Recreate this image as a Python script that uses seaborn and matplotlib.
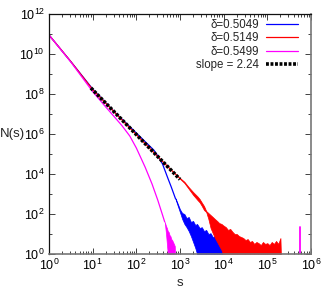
import matplotlib
matplotlib.use("Agg")
import matplotlib.pyplot as plt
import seaborn as sns
import pandas as pd
from matplotlib.ticker import LogLocator, FixedLocator, NullFormatter

# ---------------- data ----------------
labels = ["δ=0.5049", "δ=0.5149", "δ=0.5499", "slope = 2.24"]
colors = ["#0000ff", "#ff0000", "#ff00ff", "#000000"]

# delta = 0.5049 (blue)
blue_s = [1, 3.162, 10, 31.6, 100, 158.5, 251, 316, 398, 525, 631, 794]
blue_N = [8.9e10, 4.17e9, 1.78e8, 1.26e7, 1.12e6, 4.17e5, 1.58e5, 7.59e4, 3.16e4, 6310, 2239, 562]
blue_tail_s = [794, 891, 1000, 1122, 1259, 1413, 1585, 1778, 1995, 2239, 2455, 2818, 3162,
               3548, 3981, 4467, 5012, 5623, 6310, 7079, 7943, 8913, 9550]
blue_tail_hi = [600, 320, 170, 112, 100, 63, 71, 40, 45, 28, 32, 20, 22, 14, 16, 10, 11,
                7.1, 7.9, 5.0, 4.0, 2.8, 2.0]
blue_tail_lo = [530, 250, 120, 56, 32, 22, 14, 7.9, 4.0, 2.0, 1, 1, 1, 1, 1, 1, 1, 1, 1,
                1, 1, 1, 1]

# delta = 0.5149 (red)
red_s = [1, 3.162, 10, 31.6, 100, 316, 631, 1000]
red_N = [8.9e10, 4.17e9, 1.66e8, 1.23e7, 9.33e5, 7.08e4, 1.58e4, 6026]
red_tail_s = [1000, 1259, 1585, 1995, 2512, 2818, 3162, 3548, 3981, 4467, 5012, 5623, 6310,
              7079, 7943, 8913, 9550, 11220, 12590, 14130, 15850, 17780, 19950, 22390,
              25120, 28180, 31620, 35480, 39810, 44670, 50120, 56230, 63100, 70790, 79430,
              89130, 100000, 112200, 125900, 141300, 158500, 177800, 199500, 204200]
red_tail_hi = [6300, 4100, 2200, 1260, 760, 560, 372, 251, 141, 112, 89, 71, 56, 45, 35, 32,
               28, 22, 16, 18, 13, 10, 10, 7.9, 7.1, 6.3, 5.0, 5.6, 4.0, 4.5, 3.2, 4.0, 3.5,
               2.8, 4.0, 3.2, 3.5, 2.8, 4.0, 3.2, 4.5, 3.2, 6.3, 1]
red_tail_lo = [5750, 3550, 1800, 900, 500, 380, 251, 158, 126, 56, 20, 11, 6.3, 4.0, 2.5,
               1.6, 1, 1, 1, 1, 1, 1, 1, 1, 1, 1, 1, 1, 1, 1, 1, 1, 1, 1, 1, 1, 1, 1, 1, 1,
               1, 1, 1, 1]

# delta = 0.5499 (magenta)
mag_s = [1, 3.162, 10, 19.95, 31.6, 46.8, 70.8, 100, 158.5, 229, 309, 398, 447]
mag_N = [8.9e10, 3.98e9, 1.32e8, 2.24e7, 7.08e6, 2.63e6, 7.94e5, 2.0e5, 2.24e4, 3162, 501, 89, 40]
mag_tail_s = [447, 479, 501, 525, 550, 575, 603, 631, 661, 692, 724, 759, 767]
mag_tail_hi = [40, 25, 20, 14, 12.6, 8.9, 7.9, 5.6, 5.0, 4.0, 3.2, 2.5, 1]
mag_tail_lo = [40, 10, 3.2, 1, 1, 1, 1, 1, 1, 1, 1, 1, 1]
mag_spike_s = [5.5e5, 5.5e5]
mag_spike_N = [1, 22]

# power-law fit, slope 2.24
fit_s = [9.12, 1000]
fit_N = [2.0e8, 5.4e3]

x_ticks = [1e0, 1e1, 1e2, 1e3, 1e4, 1e5, 1e6]
x_exps = [0, 1, 2, 3, 4, 5, 6]
y_ticks = [1e0, 1e2, 1e4, 1e6, 1e8, 1e10, 1e12]
y_exps = [0, 2, 4, 6, 8, 10, 12]
y_minor = [1e1, 1e3, 1e5, 1e7, 1e9, 1e11]

# ---------------- style ----------------
sns.set_theme(style="ticks")
plt.rcParams['font.family'] = ['Liberation Sans', 'DejaVu Sans']
plt.rcParams['mathtext.fontset'] = 'custom'
plt.rcParams['mathtext.rm'] = 'Liberation Sans'
plt.rcParams['mathtext.it'] = 'Liberation Sans:italic'
plt.rcParams['mathtext.bf'] = 'Liberation Sans:bold'

fig = plt.figure(figsize=(3.32, 2.91), dpi=100)
fig.patch.set_facecolor("white")
ax = fig.add_axes([49 / 332, 1 - 254 / 291, 262 / 332, 240 / 291])
ax.set_facecolor("white")
ax.set_xscale("log")
ax.set_yscale("log")

lw = 0.9
# blue
sns.lineplot(x=blue_s, y=blue_N, ax=ax, color=colors[0], lw=lw, label=labels[0],
             sort=False, estimator=None)
ax.fill_between(blue_tail_s, blue_tail_lo, blue_tail_hi, color=colors[0], lw=0.5)
# red
sns.lineplot(x=red_s, y=red_N, ax=ax, color=colors[1], lw=lw, label=labels[1],
             sort=False, estimator=None)
ax.fill_between(red_tail_s, red_tail_lo, red_tail_hi, color=colors[1], lw=0.5)
# magenta
sns.lineplot(x=mag_s, y=mag_N, ax=ax, color=colors[2], lw=lw, label=labels[2],
             sort=False, estimator=None)
ax.fill_between(mag_tail_s, mag_tail_lo, mag_tail_hi, color=colors[2], lw=0.5)
sns.lineplot(x=mag_spike_s, y=mag_spike_N, ax=ax, color=colors[2], lw=1.3,
             sort=False, estimator=None)
# fit
sns.lineplot(x=fit_s, y=fit_N, ax=ax, color=colors[3], lw=2.6, label=labels[3],
             sort=False, estimator=None, linestyle=(0, (0.8, 0.45)))

ax.set_xlim(1, 1e6)
ax.set_ylim(1, 1e12)

ax.set_xticks(x_ticks, labels=[r"$\mathdefault{10^{%d}}$" % e for e in x_exps])
ax.xaxis.set_minor_locator(LogLocator(base=10, subs=[2, 3, 4, 5, 6, 7, 8, 9], numticks=20))
ax.xaxis.set_minor_formatter(NullFormatter())
ax.set_yticks(y_ticks, labels=[r"$\mathdefault{10^{%d}}$" % e for e in y_exps])
ax.yaxis.set_minor_locator(FixedLocator(y_minor))
ax.yaxis.set_minor_formatter(NullFormatter())

ax.tick_params(which="both", direction="in", top=True, right=True, colors="#222222",
               labelcolor="black", labelsize=9, width=0.6)
ax.tick_params(which="major", length=4, pad=3)
ax.tick_params(which="minor", length=2)

for side in ["left", "top"]:
    ax.spines[side].set_color("#111111")
    ax.spines[side].set_linewidth(0.9)
for side in ["right", "bottom"]:
    ax.spines[side].set_color("#777777")
    ax.spines[side].set_linewidth(1.2)

ax.set_xlabel("s", fontsize=9.5)
ax.xaxis.set_label_coords(0.5, -0.12)
ax.xaxis.label.set_va("center")
ax.set_ylabel("N(s)", fontsize=9.5, rotation=0)
ax.yaxis.set_label_coords(-0.14, 0.5)
ax.yaxis.label.set_ha("center")
ax.yaxis.label.set_va("center")

leg = ax.legend(loc="upper right", bbox_to_anchor=(0.95, 0.98), frameon=False,
                markerfirst=False, fontsize=8.3, handlelength=2.8, labelspacing=0.12,
                handletextpad=0.6, borderaxespad=0, borderpad=0)

fig.savefig("out.png", dpi=100, facecolor="white")
